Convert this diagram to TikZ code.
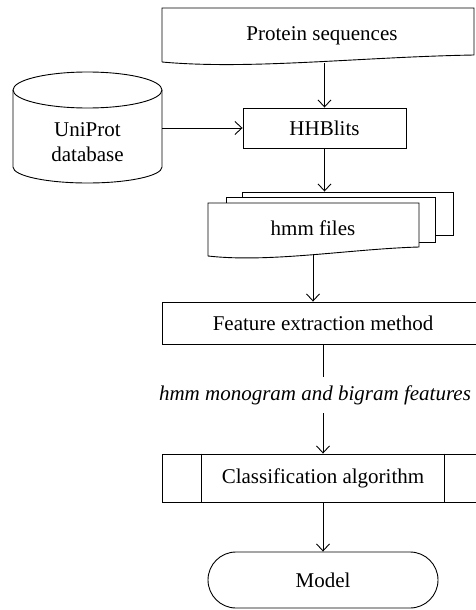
\documentclass[tikz,border=0pt]{standalone}
\usepackage{fontspec}
\setmainfont{Liberation Serif}
\usepackage{tikz}
\usetikzlibrary{arrows.meta}

\begin{document}
\begin{tikzpicture}[x=1pt, y=-1pt, line width=0.9pt,
		font=\fontsize{21}{25}\selectfont,
		box/.style={draw, rectangle, inner sep=0pt},
		testo/.style={inner sep=0pt, align=center},
		freccia/.style={-{Straight Barb[length=7pt,width=13pt]}}]
		    \begin{scope}
					\useasboundingbox (0,0) rectangle (475,610);

					% sequenze
					\draw (162,62) -- (162,8) -- (474,8) -- (474,55) .. controls (360,57) and (250,70) .. (162,62);
					\node[testo, minimum height=54] (prot) at (322,36) {Protein sequences};

					% database
					\draw (13,90) -- (13,167) arc[start angle=180, end angle=0, x radius=74.5, y radius=16] -- (162,90);
					\draw (87.5,90) ellipse [x radius=74.5, y radius=18];
					\node[testo, minimum width=149] (db) at (87.5,142) {UniProt\\database};

					\node[box, minimum width=163, minimum height=40] (hh) at (324.5,128) {HHBlits};

					% pila di file
					\node[box, fill=white, minimum width=211, minimum height=43] (back) at (347.5,213.5) {};
					\node[box, fill=white, minimum width=209, minimum height=45] (mid) at (330.5,219.5) {};
					\draw[fill=white] (208,256) -- (208,203) -- (419,203) -- (419,247) .. controls (350,249) and (270,263) .. (208,256);
					\node[testo, minimum height=51] (hmm) at (313,228.5) {hmm files};

					\node[box, minimum width=322, minimum height=42] (feat) at (323,323) {Feature extraction method};
					\node[inner xsep=0pt, inner ysep=8pt, font=\fontsize{21}{25}\selectfont\itshape] (lab) at (315,395) {hmm monogram and bigram features};

					\node[box, minimum width=322, minimum height=48] (cls) at (323,478) {Classification algorithm};
					\draw ([xshift=40pt]cls.north west) -- ([xshift=40pt]cls.south west);
					\draw ([xshift=-40pt]cls.north east) -- ([xshift=-40pt]cls.south east);

					\node[box, rounded corners=28pt, minimum width=230, minimum height=56] (model) at (323,580) {Model};

					\draw[freccia] (hh.north |- prot.south) -- (hh.north); % da sequenze a HHBlits
					\draw[freccia] (db.east |- hh.west) -- (hh.west); % da database a HHBlits
					\draw[freccia] (hh.south) -- (hh.south |- back.north); % da HHBlits a file
					\draw[freccia] (hmm.south) -- (hmm.south |- feat.north); % da file a estrazione
					\draw (feat.south) -- (feat.south |- lab.north);
					\draw[freccia] (cls.north |- lab.south) -- (cls.north); % da feature a classificazione
					\draw[freccia] (cls.south) -- (model.north); % da classificazione a modello

		    \end{scope}
		  \end{tikzpicture}
\end{document}
